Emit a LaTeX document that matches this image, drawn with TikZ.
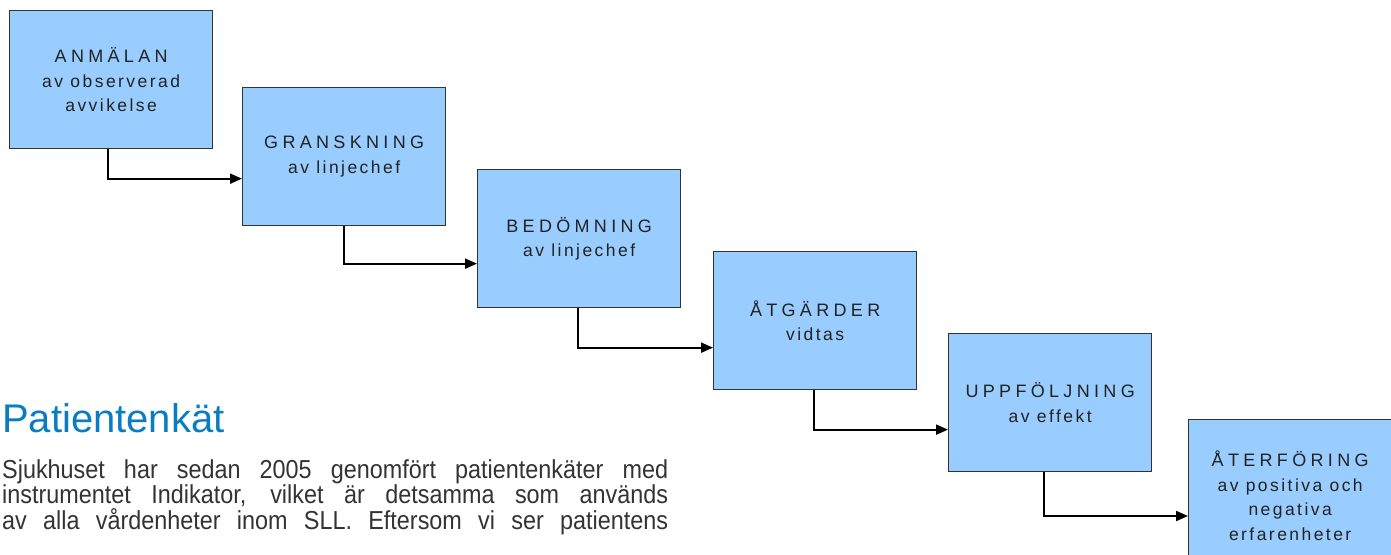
\documentclass[tikz,border=0pt]{standalone}
\usepackage{fontspec}
\setmainfont{Liberation Sans}
\newfontfamily\capsfont[LetterSpace=24]{Liberation Sans}
\newfontfamily\lowfont[LetterSpace=14]{Liberation Sans}
\newfontfamily\bodyfont[FakeStretch=0.9]{Liberation Sans}
\usetikzlibrary{arrows.meta,calc}
\definecolor{boxblue}{HTML}{99CCFF}
\definecolor{boxline}{HTML}{333333}
\definecolor{txt}{HTML}{222222}
\definecolor{headblue}{HTML}{0A7DC2}
\definecolor{bodygray}{HTML}{333333}
\newcommand{\captxt}[1]{{\capsfont\fontsize{18}{24.5}\selectfont #1}}
\begin{document}
\begin{tikzpicture}[x=1pt,y=-1pt,
  stepbox/.style={draw=boxline, line width=1.3pt, fill=boxblue,
    minimum width=203pt, minimum height=138pt, anchor=north west,
    inner sep=0pt, align=center, text=txt,
    font=\lowfont\fontsize{17.5}{24.5}\selectfont},
  conn/.style={line width=2pt, -{Triangle[length=12pt,width=10pt]}},
  bodyline/.style={anchor=base west, inner sep=0pt, text=bodygray,
    font=\bodyfont\fontsize{26}{26}\selectfont}]
\useasboundingbox (0,0) rectangle (1391,554);
\clip (0,0) rectangle (1391,554);
\node[stepbox] (b1) at (9,10) {\captxt{ANMÄLAN}\\ av observerad\\ avvikelse};
\node[stepbox] (b2) at (242,87) {\captxt{GRANSKNING}\\ av linjechef};
\node[stepbox] (b3) at (477,169) {\captxt{BEDÖMNING}\\ av linjechef};
\node[stepbox] (b4) at (713,251) {\captxt{ÅTGÄRDER}\\ vidtas};
\node[stepbox] (b5) at (948,333) {\captxt{UPPFÖLJNING}\\ av effekt};
\node[stepbox, minimum height=152pt] (b6) at (1188,419) {\captxt{ÅTERFÖRING}\\ av positiva och\\ negativa\\ erfarenheter};
\draw[conn] ([xshift=-3.5pt]b1.south) |- ([yshift=-22pt]b2.west);
\draw[conn] (b2.south) |- ([yshift=-25pt]b3.west);
\draw[conn] ([xshift=-1.5pt]b3.south) |- ([yshift=-27pt]b4.west);
\draw[conn] ([xshift=-1pt]b4.south) |- ([yshift=-27pt]b5.west);
\draw[conn] ([xshift=-6.5pt]b5.south) |- ([yshift=-97pt]b6.north west);
\node[anchor=base west, inner sep=0pt, text=headblue,
  font=\fontsize{40}{48}\selectfont] (head) at (2,432) {Patientenkät};
\node[bodyline] (l1) at (2,478) {\makebox[666pt][s]{Sjukhuset har sedan 2005 genomfört patientenkäter med}};
\node[bodyline] (l2) at (2,503.5) {\makebox[666pt][s]{instrumentet Indikator, vilket är detsamma som används}};
\node[bodyline] (l3) at (2,529) {\makebox[666pt][s]{av alla vårdenheter inom SLL. Eftersom vi ser patientens}};
\end{tikzpicture}
\end{document}
